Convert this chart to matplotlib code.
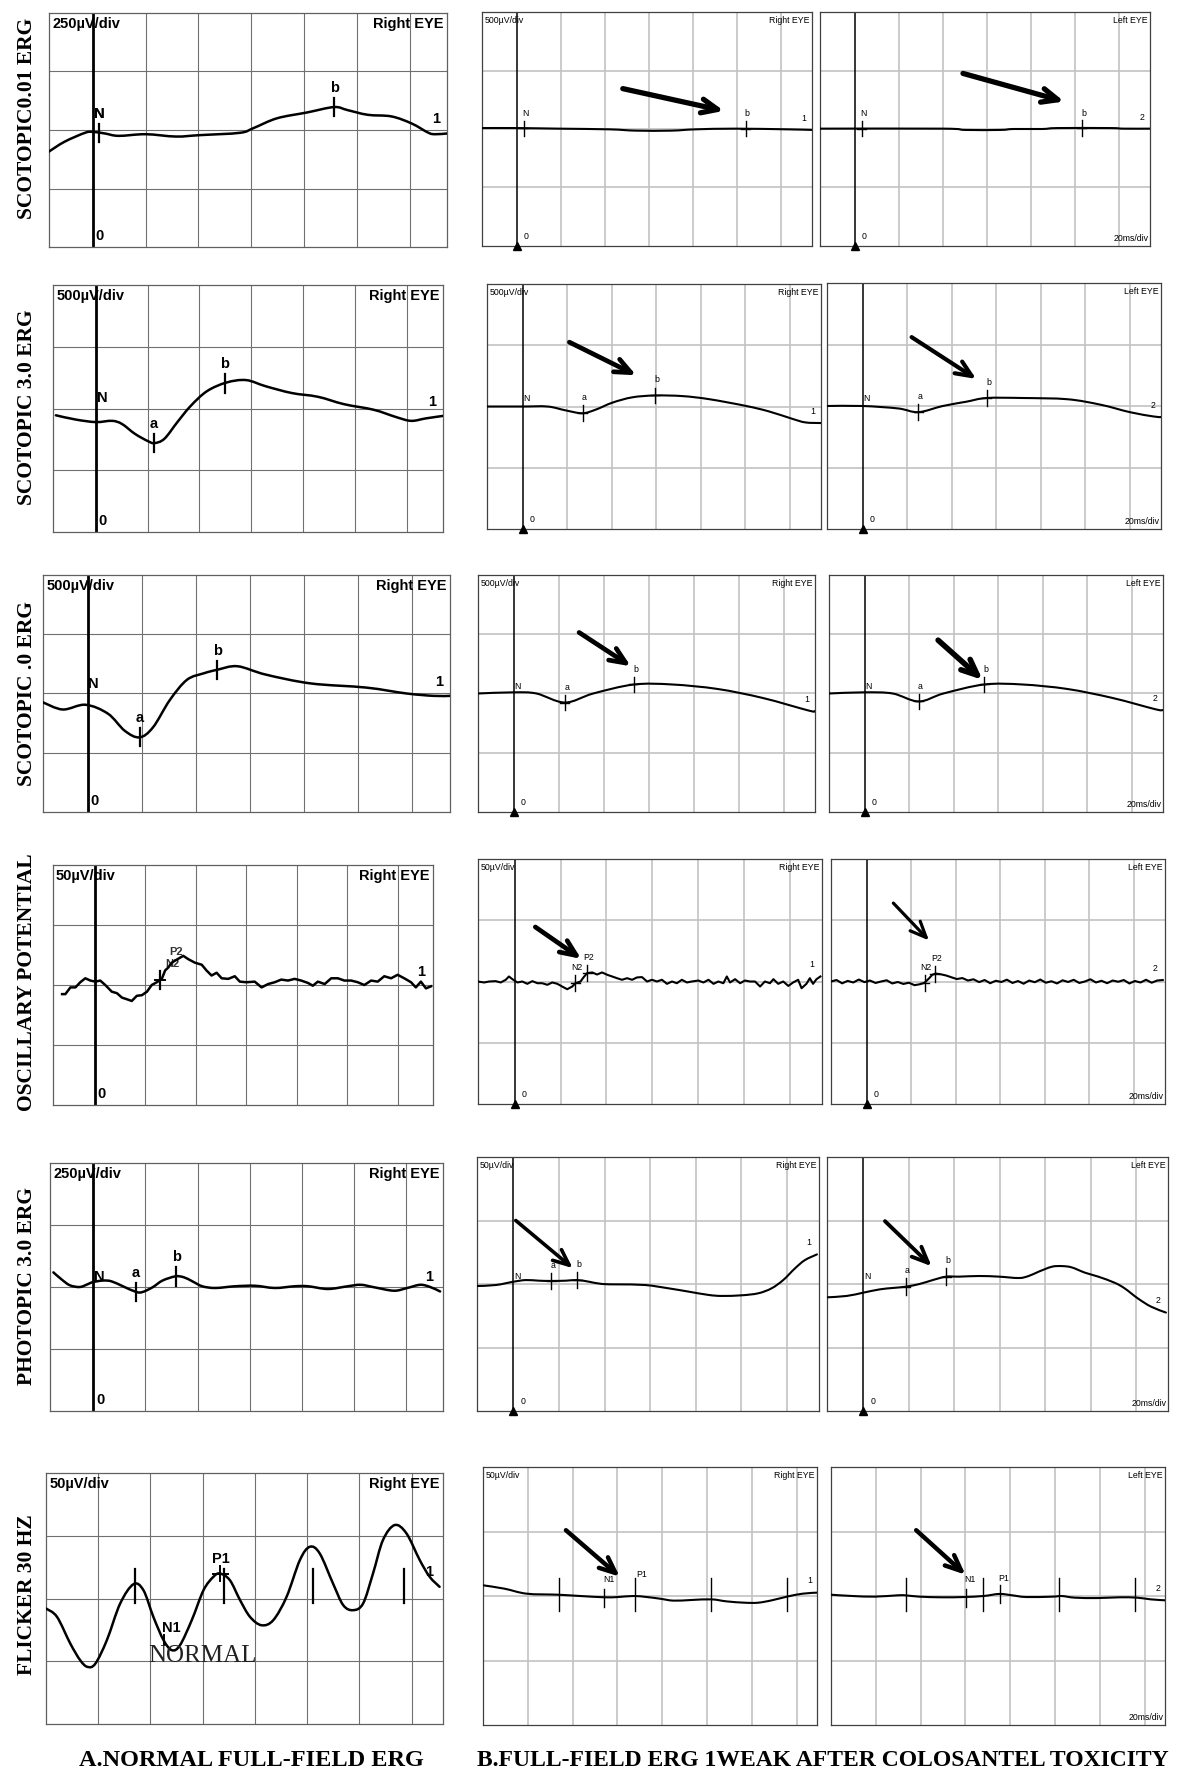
import numpy as np
import matplotlib
matplotlib.use("Agg")
import matplotlib.pyplot as plt
from matplotlib.path import Path
from matplotlib.patches import PathPatch

# ------------------------------------------------------------------ data
# time in ms (20 ms / division), amplitude in microvolts
row_titles = ["SCOTOPIC0.01 ERG", "SCOTOPIC 3.0 ERG", "SCOTOPIC .0 ERG",
              "OSCILLARY POTENTIAL", "PHOTOPIC 3.0 ERG", "FLICKER 30 HZ"]
scale_A = [250, 500, 500, 50, 250, 50]      # uV/div, normal panels
scale_B = [500, 500, 500, 50, 50, 50]       # uV/div, toxicity panels
bottom_labels = ["A.NORMAL FULL-FIELD ERG",
                 "B.FULL-FIELD ERG 1WEAK AFTER COLOSANTEL TOXICITY"]

# Row 1  scotopic 0.01
r1A_t = [-16.5, -10.6, -2.9, 0, 4.7, 9.8, 20, 31.5, 40.4, 55.7, 60.8, 69.7, 81.1,
         91.3, 96.4, 104, 113, 120.6, 127, 129.6, 134]
r1A_v = [-92, -50, -12, -8, -15, -25, -18, -28, -22, -12, 8, 50, 75, 98, 85, 65,
         58, 28, -12, -18, -15]
r1R_t = [-16, 0, 19, 42, 54, 70, 81, 99, 123, 134]
r1R_v = [8, 8, 3, -3, -14, -14, -3, 3, -3, -8]
r1L_t = [-16, 40, 50, 66, 72, 85, 92, 116, 122, 134]
r1L_v = [3, 3, -8, -8, 0, 0, 8, 8, 3, 3]

# Row 2  scotopic 3.0
r2A_t = [-15.4, -7.6, 0, 6.3, 10.1, 15.1, 20.2, 22.7, 26.5, 31.5, 36.6, 42.9, 50.4,
         58, 65.6, 75.7, 85.7, 95.8, 107.2, 116, 121.7, 127.4, 134]
r2A_v = [-55, -90, -110, -100, -125, -205, -265, -280, -245, -110, 20, 140, 210,
         230, 180, 125, 95, 35, -10, -70, -100, -80, -60]
r2R_t = [-16, 0, 11.2, 19.4, 26.9, 32.9, 40.4, 49.3, 59.5, 71.7, 83.7, 100.2, 110.6,
         121, 127, 134]
r2R_v = [0, 0, 0, -32, -55, -25, 32, 75, 90, 85, 60, 5, -40, -100, -130, -135]
r2L_t = [-16, 0, 16, 25, 36, 46.6, 55.7, 72, 92, 107, 120, 130.6, 134]
r2L_v = [0, 0, -20, -50, 0, 35, 65, 65, 55, 10, -50, -85, -90]

# Row 3  scotopic (10).0
r3A_t = [-16.5, -9.2, -0.8, 7.5, 13.75, 19.2, 24.2, 30.4, 36.7, 42.9, 47.9, 55.4,
         65.8, 82.5, 103, 118, 128, 134]
r3A_v = [-75, -135, -95, -170, -315, -370, -285, -55, 115, 170, 200, 230, 160, 85,
         50, 0, -20, -20]
r3R_t = [-16, 0, 10, 22.7, 35.3, 53.4, 70.5, 90.7, 110.8, 131, 134]
r3R_v = [0, 10, 0, -76, 0, 76, 76, 38, -38, -143, -150]
r3L_t = [-16, 0, 12.6, 24.3, 35.4, 53.7, 70.9, 91.1, 111.4, 130.6, 134]
r3L_v = [0, 10, 0, -67, 0, 76, 76, 38, -38, -133, -140]

# Row 4  oscillatory potentials
r4A_t = [-12.9, -11.6, -9.6, -7.6, -5.7, -3.7, -1.7, 0.3, 2.2, 4.2, 6.8, 8.8, 10.8,
         12.8, 14.7, 16.7, 18.7, 20.7, 22.6, 24.6, 26.6, 27.9, 29.2, 30.5, 33.2,
         35.1, 37.1, 39.7, 42.4, 44.3, 46.3, 48.3, 50.3, 52.9, 55.5, 57.5, 60.1,
         63.4, 66.1, 68.7, 71.3, 73.9, 76.6, 79.2, 81.8, 84.5, 86.4, 88.4, 91.1,
         93.7, 96.3, 98.9, 101.6, 104.2, 106.8, 109.5, 112.1, 114.7, 117.4, 120.0,
         122.6, 125.3, 127.2, 129.2, 131.2, 133.2]
r4A_v = [-7.6, -7.6, -2.0, -2.0, 2.3, 5.6, 3.7, 2.8, 3.7, 0, -5.6, -6.8, -10.5,
         -11.9, -13.3, -9.0, -8.5, -5.6, 0, 2.3, 5.1, 12.1, 14.7, 18.6, 22.0, 24.3,
         21.5, 18.6, 16.9, 12.1, 7.9, 10.2, 5.6, 5.1, 7.3, 2.8, 2.3, 2.8, -2.0, 0.8,
         2.3, 4.5, 3.7, 5.1, 3.7, 1.7, -0.6, 2.8, 0.8, 5.6, 5.6, 3.7, 3.7, 2.3, 0,
         3.7, 2.8, 7.3, 5.6, 8.5, 5.6, 2.3, -2.0, 2.8, -2.8, -1.1]
r4R_t = [-16.2, -13.3, -11.2, -8.3, -6.1, -3.9, -2.5, -1.0, 1.2, 3.3, 5.5, 7.7, 9.9,
         12.0, 14.2, 16.4, 18.6, 20.7, 22.9, 25.1, 26.5, 28.7, 30.1, 31.6, 33.8,
         35.9, 38.1, 40.3, 42.5, 44.6, 46.8, 49.0, 51.2, 53.3, 55.5, 57.7, 59.9,
         62.0, 64.2, 66.4, 68.6, 70.7, 72.9, 75.1, 77.2, 80.1, 82.3, 84.5, 86.7,
         88.8, 91.0, 92.5, 93.9, 96.1, 98.3, 100.4, 102.6, 104.8, 107.0, 109.1,
         111.3, 112.8, 114.9, 117.1, 119.3, 121.4, 123.6, 125.1, 127.2, 128.7,
         130.1, 131.6, 133.3]
r4R_v = [0, -0.8, 0, 0.3, -0.8, 1.4, 4.1, 1.9, -0.8, 0, -1.9, 0.3, -1.4, -1.4, -2.7,
         -0.8, -1.9, -4.1, -6.3, -4.1, -1.4, 0, 3.6, 6.8, 7.4, 5.7, 7.4, 5.5, 4.1,
         2.7, 1.4, 2.7, 1.4, 3.3, 3.6, 0, 1.4, 0, 1.4, -1.9, 0, -1.4, 1.4, -0.8, 0,
         0.8, -0.8, 1.4, -1.9, 0, -1.4, 4.1, -0.8, 1.9, -1.4, 0.8, 0, 0, -4.1, 0,
         -1.4, 1.9, -1.9, 0, -3.6, -0.8, 1.4, -5.5, -1.9, 2.7, -1.9, 1.9, 4.1]
r4L_t = [-16, -13.5, -11, -8.5, -6, -3.5, -1, 1.5, 4, 6.5, 9, 11.5, 14, 16.5, 19,
         21.5, 24, 26, 28, 29.5, 31, 33, 35.5, 38, 40.5, 43, 45.5, 48, 50.5, 53,
         55.5, 58, 60.5, 63, 65.5, 68, 70.5, 73, 75.5, 78, 80.5, 83, 85.5, 88, 90.5,
         93, 95.5, 98, 100.5, 103, 105.5, 108, 110.5, 113, 115.5, 118, 120.5, 123,
         125.5, 128, 130.5, 133]
r4L_v = [0, 1.2, -1.5, 0.5, -0.8, 1.6, -0.5, 0.8, -1.2, 0, 1.0, -1.6, -0.4, -2.0,
         -1.0, -3.0, -2.2, -1.0, 2.5, 5.5, 6.5, 6.0, 5.0, 3.5, 2.0, 2.8, 0.8, 1.8,
         -0.5, 1.2, -1.4, 0.6, -0.4, 1.5, -1.2, 0.4, -1.8, 0.8, -0.6, 1.6, -1.0, 0.2,
         -1.6, 1.0, -0.4, 1.4, -1.2, 0, 1.8, -0.8, 0.6, -1.4, 0.8, -0.2, 1.2, -1.6,
         0.4, -0.8, 1.4, -1.0, 0.8, 1.2]

# Row 5  photopic 3.0
r5A_t = [-15.2, -12.0, -8.9, -5.1, -1.9, 0, 3.8, 7.0, 11.4, 16.5, 19.0, 22.8, 26.6,
         31.6, 34.8, 38.0, 41.8, 46.8, 54.4, 62.0, 69.6, 77.2, 82.3, 89.9, 97.5,
         102.5, 107.6, 115.2, 120.3, 125.3, 129.1, 132.9]
r5A_v = [59, 30, 7, 0, 12, 20, 26, 23, 3, -20, -20, -1, 26, 43, 39, 23, 3, -4, 3, 5,
         -4, 3, 3, -8, 3, 9, -1, -15, -4, 9, 0, -18]
r5R_t = [-16.2, -7.7, 0, 5.4, 11.2, 16.3, 22.9, 28.0, 33.1, 38.9, 46.2, 57.8, 68.0,
         76.8, 85.5, 91.3, 100.1, 107.4, 113.2, 118.3, 123.4, 127.8, 133.1]
r5R_v = [-1.6, -0.8, 1.8, 3.1, 2.6, 2.4, 2.6, 3.1, 1.8, 0, -0.3, -0.8, -3.4, -6.0,
         -8.6, -9.4, -8.9, -7.3, -3.4, 3.1, 12.2, 18.8, 23.3]
r5L_t = [-16.0, -7.3, 0, 7.3, 13.1, 18.6, 24.7, 30.5, 36.4, 42.2, 50.9, 59.6, 68.4,
         72.7, 77.1, 82.9, 87.3, 91.6, 97.5, 103.3, 110.5, 114.9, 120.7, 126.5, 133.1]
r5L_v = [-10.5, -9.4, -6.8, -4.2, -3.1, -2.1, 0, 3.1, 5.8, 5.8, 6.3, 5.8, 4.7, 6.3,
         9.7, 13.6, 14.1, 13.1, 8.9, 5.8, 1.0, -3.4, -11.3, -17.8, -22.5]

# Row 6  flicker 30 Hz
r6A_t = [0, 4.2, 9.3, 13.1, 15.9, 18.9, 23.3, 28.4, 33.5, 37.3, 41.1, 45.0, 48.2,
         51.3, 55.8, 60.3, 64.1, 66.6, 70.4, 74.3, 78.1, 82.5, 87.0, 92.1, 97.2,
         101.0, 104.8, 109.9, 113.8, 117.6, 121.4, 125.2, 129.0, 133.5, 138.0,
         143.1, 146.9, 150.7]
r6A_v = [-8.0, -14.6, -35.9, -49.2, -54.5, -51.9, -33.2, -4.0, 11.4, 6.6, -14.6,
         -33.2, -41.2, -37.2, -17.3, 6.6, 17.3, 19.9, 14.6, -1.3, -14.6, -21.3,
         -17.3, 1.3, 30.6, 41.2, 35.9, 11.9, -5.3, -9.3, -4.0, 19.9, 46.5, 58.5,
         51.9, 30.6, 17.3, 9.3]
r6R_t = [0, 9.5, 19.5, 33.4, 43.3, 54.2, 60.2, 67.1, 73.1, 79.0, 85.0, 92.9, 101.9,
         108.8, 116.8, 122.7, 128.7, 135.6, 142.6, 149.2]
r6R_v = [8.3, 5.7, 1.8, 1.0, 0, -1.0, -0.8, 0, -0.8, -2.1, -3.6, -3.1, -2.6, -4.2,
         -5.2, -5.2, -3.4, -0.5, 1.8, 2.6]
r6L_t = [0, 9.5, 19.5, 29.4, 33.4, 39.3, 49.3, 59.2, 68.1, 75.1, 81.0, 87.0, 98.9,
         102.9, 108.8, 118.8, 128.7, 136.6, 142.6, 149.6]
r6L_v = [1.0, 0, -0.5, 0.5, 0.5, -0.5, -1.0, -0.8, 0, 1.6, 0.5, -0.8, -0.5, 0,
         -1.3, -1.6, -1.0, -1.3, -2.6, -3.4]

# peak markers (label, latency ms)
r1A_m = [("N", 2.5), ("b", 91.3)]
r1R_m = [("N", 3.0), ("b", 103.8)]
r1L_m = [("N", 3.0), ("b", 103.0)]
r2A_m = [("a", 22.4), ("b", 49.8)]
r2R_m = [("a", 26.9), ("b", 59.5)]
r2L_m = [("a", 25.0), ("b", 55.7)]
r3A_m = [("a", 19.2), ("b", 47.9)]
r3R_m = [("a", 22.7), ("b", 53.4)]
r3L_m = [("a", 24.3), ("b", 53.7)]
r4A_m = [("", 26.0)]
r4R_m = [("N2", 26.5), ("P2", 31.6)]
r4L_m = [("N2", 26.0), ("P2", 30.5)]
r5A_m = [("a", 16.5), ("b", 31.9)]
r5R_m = [("a", 16.6), ("b", 28.0)]
r5L_m = [("a", 18.6), ("b", 36.4)]
# flicker cycle ticks (ms)
r6A_ticks = [34.1, 68.2, 102.3, 136.9]
r6R_ticks = [33.8, 67.7, 101.7, 135.8]
r6L_ticks = [33.4, 67.7, 101.5, 135.7]

# ------------------------------------------------------------------ layout
W, H = 1181, 1773
fig = plt.figure(figsize=(W / 100, H / 100), dpi=100)
fig.patch.set_facecolor("white")

SANS_A = ["Liberation Sans", "DejaVu Sans"]
SANS_B = ["Liberation Sans Narrow", "Liberation Sans", "DejaVu Sans"]
SERIF = ["Liberation Serif", "DejaVu Serif"]

rects = [
    [(49, 13, 447, 247), (482, 12, 812, 246), (820, 12, 1150, 246)],
    [(53, 285, 443, 532), (487, 284, 821, 529), (827, 283, 1161, 529)],
    [(43, 575, 450, 812), (478, 575, 815, 812), (829, 575, 1163, 812)],
    [(53, 865, 433, 1105), (478, 859, 822, 1104), (831, 859, 1165, 1104)],
    [(50, 1163, 443, 1411), (477, 1157, 819, 1411), (827, 1157, 1168, 1411)],
    [(46, 1473, 443, 1724), (483, 1467, 817, 1725), (831, 1467, 1165, 1725)],
]
title_y = [118, 407, 693, 982, 1286, 1595]


def make_ax(rect):
    x0, y0, x1, y1 = rect
    return fig.add_axes([x0 / W, 1 - y1 / H, (x1 - x0) / W, (y1 - y0) / H])


def trace(ax, t, v, lw, smooth=True):
    """Draw the recorded trace; smooth traces are rendered as a cubic
    Bezier path running through every read point."""
    P = np.column_stack([np.asarray(t, float), np.asarray(v, float)])
    if not smooth:
        ax.plot(P[:, 0], P[:, 1], color="black", lw=lw, zorder=4,
                solid_joinstyle="round")
        return
    n = len(P)
    verts = [P[0]]
    codes = [Path.MOVETO]
    for i in range(n - 1):
        p0 = P[i - 1] if i > 0 else P[i]
        p1, p2 = P[i], P[i + 1]
        p3 = P[i + 2] if i + 2 < n else P[i + 1]
        verts += [p1 + (p2 - p0) / 6.0, p2 - (p3 - p1) / 6.0, p2]
        codes += [Path.CURVE4] * 3
    ax.add_patch(PathPatch(Path(verts, codes), fill=False, ec="black", lw=lw,
                           zorder=4, joinstyle="round", capstyle="round"))


def panel(rect, kind, t, v, scale, eye, marks, end_lab, xlim, axis0=True,
          n_lab=False, show_div=True, show_ms=False, arrow=None, smooth=True,
          arrow_lw=3.4):
    ax = make_ax(rect)
    ax.set_xlim(*xlim)
    ax.set_ylim(-2 * scale, 2 * scale)
    ax.set_xticks([])
    ax.set_yticks([])
    if kind == "A":
        gc, glw, sc, tlw, fam, fs, fw = "#707070", 0.8, "#606060", 1.8, SANS_A, 10.5, "bold"
    else:
        gc, glw, sc, tlw, fam, fs, fw = "#c2c2c2", 1.2, "#404040", 1.5, SANS_B, 6.3, "normal"
    for s in ax.spines.values():
        s.set_color(sc)
        s.set_linewidth(0.9)
    for g in range(20, int(xlim[1]) + 1, 20):
        if xlim[0] < g < xlim[1]:
            ax.axvline(g, color=gc, lw=glw, zorder=1)
    for k in (-1, 0, 1):
        ax.axhline(k * scale, color=gc, lw=glw, zorder=1)
    if axis0:
        ax.axvline(0, color="black", lw=2.0 if kind == "A" else 1.1, zorder=2)
        if kind == "A":
            ax.text(1.2, -2 * scale + 0.06 * scale, "0", family=fam, weight="bold",
                    fontsize=fs, ha="left", va="bottom")
        else:
            ax.plot([0], [-2 * scale], marker="^", color="black", ms=6,
                    clip_on=False, zorder=5)
            ax.text(3.0, -2 * scale + 0.08 * scale, "0", family=fam, fontsize=fs,
                    ha="left", va="bottom")
    trace(ax, t, v, tlw, smooth)

    if show_div:
        ax.text(0.008, 0.985, f"{scale}\u00b5V/div", transform=ax.transAxes,
                family=fam, weight=fw, fontsize=fs, ha="left", va="top")
    ax.text(0.992, 0.985, eye, transform=ax.transAxes, family=fam, weight=fw,
            fontsize=fs, ha="right", va="top")
    if show_ms:
        ax.text(0.995, 0.012, "20ms/div", transform=ax.transAxes, family=fam,
                fontsize=fs, ha="right", va="bottom")

    ax.text(t[-1] - 2.5, v[-1] + 0.12 * scale, end_lab, family=fam, weight=fw,
            fontsize=fs, ha="right", va="bottom")

    if n_lab:
        ax.text(0.3, 0.05 * scale, "N", family=fam, weight=fw, fontsize=fs,
                ha="left", va="bottom")

    h = (0.15 if kind == "A" else 0.13) * scale
    for lab, tm in marks:
        y = float(np.interp(tm, t, v))
        ax.plot([tm, tm], [y - h, y + h], color="black",
                lw=1.6 if kind == "A" else 1.0, zorder=5)
        if kind == "B":
            ax.plot([tm - 2, tm + 2], [y, y], color="black", lw=1.0, zorder=5)
        if lab:
            ax.text(tm + (0 if kind == "A" else 0.8), y + h + 0.05 * scale, lab,
                    family=fam, weight=fw, fontsize=fs, ha="center", va="bottom")
    if arrow is not None:
        (tx, ty), (hx, hy) = arrow
        ax.annotate("", xy=(hx, hy * scale), xytext=(tx, ty * scale),
                    arrowprops=dict(arrowstyle="->,head_length=1.15,head_width=0.5",
                                    lw=arrow_lw, color="black", shrinkA=0,
                                    shrinkB=0),
                    zorder=6)
    return ax


XA = (-16.5, 134)
XB = (-16, 134)

# arrows in (ms, div) : tail, head
arrows = {
    (0, 1): ((48, 0.69), (94, 0.31)), (0, 2): ((49, 0.95), (95, 0.47)),
    (1, 1): ((21, 1.05), (51, 0.51)), (1, 2): ((22, 1.12), (51, 0.44)),
    (2, 1): ((29, 1.03), (52, 0.46)), (2, 2): ((33, 0.9), (53, 0.23)),
    (3, 1): ((9, 0.89), (29, 0.37)), (3, 2): ((12, 1.28), (28, 0.67)),
    (4, 1): ((1, 1.0), (26, 0.25)), (4, 2): ((9.5, 0.99), (30, 0.28)),
    (5, 1): ((37, 1.02), (61, 0.30)), (5, 2): ((38, 1.02), (60, 0.33)),
}
arrow_lws = {
    (0, 1): 3.8, (0, 2): 3.8, (1, 1): 3.4, (1, 2): 3.0, (2, 1): 3.4, (2, 2): 4.0,
    (3, 1): 3.4, (3, 2): 2.3, (4, 1): 2.6, (4, 2): 2.8, (5, 1): 3.2, (5, 2): 3.2,
}

A_sets = [(r1A_t, r1A_v, r1A_m), (r2A_t, r2A_v, r2A_m), (r3A_t, r3A_v, r3A_m),
          (r4A_t, r4A_v, r4A_m), (r5A_t, r5A_v, r5A_m)]
R_sets = [(r1R_t, r1R_v, r1R_m), (r2R_t, r2R_v, r2R_m), (r3R_t, r3R_v, r3R_m),
          (r4R_t, r4R_v, r4R_m), (r5R_t, r5R_v, r5R_m)]
L_sets = [(r1L_t, r1L_v, r1L_m), (r2L_t, r2L_v, r2L_m), (r3L_t, r3L_v, r3L_m),
          (r4L_t, r4L_v, r4L_m), (r5L_t, r5L_v, r5L_m)]

for i in range(5):
    sm = (i != 3)
    t, v, m = A_sets[i]
    axA = panel(rects[i][0], "A", t, v, scale_A[i], "Right EYE", m, "1", XA,
                n_lab=(i not in (0, 3)), smooth=sm)
    if i == 0:
        axA.text(2.5, float(np.interp(2.5, t, v)) + 0.2 * scale_A[i], "N",
                 family=SANS_A, weight="bold", fontsize=10.5, ha="center", va="bottom")
    if i == 3:
        s = scale_A[i]
        axA.plot([24, 28], [np.interp(26, t, v)] * 2, color="black", lw=1.4, zorder=5)
        axA.text(28.0, 0.26 * s, "N2", family=SANS_A, weight="bold", fontsize=8,
                 ha="left", va="bottom", color="#333333")
        axA.text(29.5, 0.46 * s, "P2", family=SANS_A, weight="bold", fontsize=8,
                 ha="left", va="bottom", color="#333333")
    t, v, m = R_sets[i]
    panel(rects[i][1], "B", t, v, scale_B[i], "Right EYE", m, "1", XB,
          n_lab=(i not in (0, 3)), arrow=arrows[(i, 1)], smooth=sm,
          arrow_lw=arrow_lws[(i, 1)])
    t, v, m = L_sets[i]
    panel(rects[i][2], "B", t, v, scale_B[i], "Left EYE", m, "2", XB,
          n_lab=(i not in (0, 3)), show_div=False, show_ms=True,
          arrow=arrows[(i, 2)], smooth=sm, arrow_lw=arrow_lws[(i, 2)])

# Row 6 flicker
ax6A = panel(rects[5][0], "A", r6A_t, r6A_v, scale_A[5], "Right EYE", [], "1",
             (0, 152), axis0=False)
for tk in r6A_ticks:
    ax6A.plot([tk, tk], [10 - 13.3, 10 + 13.3], color="black", lw=1.6, zorder=5)
yP1 = float(np.interp(66.6, r6A_t, r6A_v))
ax6A.plot([66.6, 66.6], [yP1 - 6, yP1 + 6], color="black", lw=1.4, zorder=5)
ax6A.plot([64, 69.5], [yP1, yP1], color="black", lw=1.4, zorder=5)
ax6A.text(67, yP1 + 6, "P1", family=SANS_A, weight="bold", fontsize=10.5,
          ha="center", va="bottom")
yN1 = float(np.interp(45.0, r6A_t, r6A_v))
ax6A.plot([45, 45], [yN1 - 4, yN1 + 4], color="black", lw=1.4, zorder=5)
ax6A.text(48, yN1 + 4, "N1", family=SANS_A, weight="bold", fontsize=10.5,
          ha="center", va="bottom")
ax6A.text(60, -46, "NORMAL", family=SERIF, fontsize=18, ha="center", va="center",
          color="#222222", zorder=6)

ax6R = panel(rects[5][1], "B", r6R_t, r6R_v, scale_B[5], "Right EYE", [], "1",
             (0, 149), axis0=False, arrow=arrows[(5, 1)], arrow_lw=arrow_lws[(5, 1)])
ax6L = panel(rects[5][2], "B", r6L_t, r6L_v, scale_B[5], "Left EYE", [], "2",
             (0, 149), axis0=False, show_div=False, show_ms=True,
             arrow=arrows[(5, 2)], arrow_lw=arrow_lws[(5, 2)])
for axx, ticks in ((ax6R, r6R_ticks), (ax6L, r6L_ticks)):
    for tk in ticks:
        axx.plot([tk, tk], [1 - 13, 1 + 13], color="black", lw=1.0, zorder=5)
for axx, tn, tp, pshort in ((ax6R, 54.2, 67.7, False), (ax6L, 60.2, 75.5, True)):
    axx.plot([tn, tn], [-1.3 - 7, -1.3 + 7], color="black", lw=1.0, zorder=5)
    axx.text(tn + 2, 9, "N1", family=SANS_B, fontsize=6.3, ha="center", va="bottom")
    if pshort:
        axx.plot([tp, tp], [1.6 - 7, 1.6 + 7], color="black", lw=1.0, zorder=5)
        axx.text(tp + 1.5, 10, "P1", family=SANS_B, fontsize=6.3, ha="center",
                 va="bottom")
    else:
        axx.text(tp + 3, 13, "P1", family=SANS_B, fontsize=6.3, ha="center",
                 va="bottom")

# row titles
for i, ttl in enumerate(row_titles):
    fig.text(27 / W, 1 - title_y[i] / H, ttl, rotation=90, ha="center", va="center",
             family=SERIF, weight="bold", fontsize=15.5)

fig.text(251 / W, 1 - 1760 / H, bottom_labels[0], ha="center", va="center",
         family=SERIF, weight="bold", fontsize=17.5)
fig.text(823 / W, 1 - 1760 / H, bottom_labels[1], ha="center", va="center",
         family=SERIF, weight="bold", fontsize=17)

fig.savefig("out.png", dpi=100, facecolor="white")
